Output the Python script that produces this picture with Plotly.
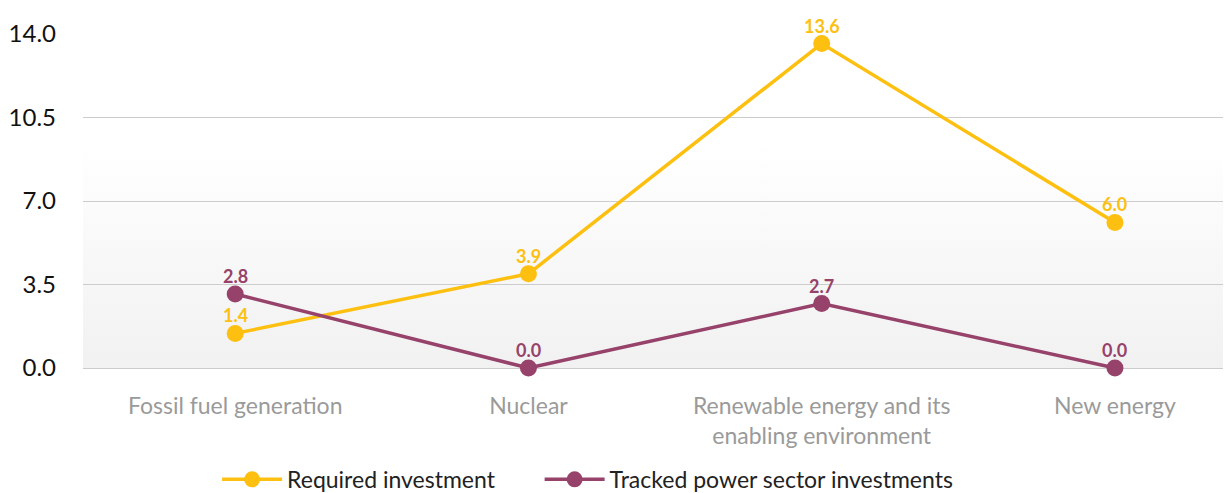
import plotly.graph_objects as go

categories = ["Fossil fuel generation", "Nuclear",
              "Renewable energy and its<br>enabling environment", "New energy"]
required = [1.45, 3.95, 13.6, 6.1]
required_labels = ["1.4", "3.9", "13.6", "6.0"]
tracked = [3.1, 0.0, 2.7, 0.0]
tracked_labels = ["2.8", "0.0", "2.7", "0.0"]
y_ticks = [0, 3.5, 7, 10.5, 14]

YELLOW = "#FDC010"
PURPLE = "#96426A"
FONT = "Lato, 'Open Sans', sans-serif"

# soft vertical gradient for the plot background
grad_svg = (
    "data:image/svg+xml;utf8,"
    "<svg xmlns='http://www.w3.org/2000/svg' width='10' height='100' preserveAspectRatio='none'>"
    "<defs><linearGradient id='g' x1='0' y1='0' x2='0' y2='1'>"
    "<stop offset='0.33' stop-color='%23ffffff'/>"
    "<stop offset='1' stop-color='%23f1f1f1'/>"
    "</linearGradient></defs>"
    "<rect width='10' height='100' fill='url(%23g)'/></svg>"
)

fig = go.Figure()

fig.add_trace(go.Scatter(
    x=categories, y=required, name="Required investment",
    mode="lines+markers",
    line=dict(color=YELLOW, width=3.5),
    marker=dict(color=YELLOW, size=17),
    cliponaxis=False, legend="legend",
))

fig.add_trace(go.Scatter(
    x=categories, y=tracked, name="Tracked power sector investments",
    mode="lines+markers",
    line=dict(color=PURPLE, width=3.5),
    marker=dict(color=PURPLE, size=17),
    cliponaxis=False, legend="legend2",
))

# value labels above each point
for vals, labels, col in [(required, required_labels, YELLOW), (tracked, tracked_labels, PURPLE)]:
    for c, v, t in zip(categories, vals, labels):
        fig.add_annotation(x=c, y=v, text=t, showarrow=False, yshift=18,
                           font=dict(color=col, size=18, family=FONT, weight="bold"))

leg = dict(orientation="h", xanchor="left", yref="container", y=0.028, yanchor="middle",
           font=dict(size=23, color="#222"), itemwidth=60, bgcolor="rgba(0,0,0,0)")

fig.update_layout(
    width=1231, height=485,
    margin=dict(l=75, r=0, t=26, b=125, autoexpand=False),
    paper_bgcolor="white", plot_bgcolor="white",
    font=dict(family=FONT),
    showlegend=True,
    legend=dict(leg, x=0.116),
    legend2=dict(leg, x=0.395),
    images=[dict(source=grad_svg, xref="x domain", yref="y", x=0, y=14,
                 sizex=1, sizey=14, sizing="stretch", layer="below",
                 xanchor="left", yanchor="top")],
)

fig.update_xaxes(
    type="category", range=[-0.519, 3.423],
    showgrid=False, zeroline=False, showline=False,
    tickfont=dict(size=23, color="#9a9a9a"), ticks="", ticklabelstandoff=22,
)

fig.update_yaxes(
    range=[0, 14], tickvals=y_ticks, ticktext=[f"{v:.1f}" for v in y_ticks],
    showgrid=True, gridcolor="#cccccc", gridwidth=1.2,
    zeroline=True, zerolinecolor="#cccccc", zerolinewidth=1.2, showline=False,
    tickfont=dict(size=24, color="#111"), ticklabelstandoff=26,
)

fig.write_html("out.html")
